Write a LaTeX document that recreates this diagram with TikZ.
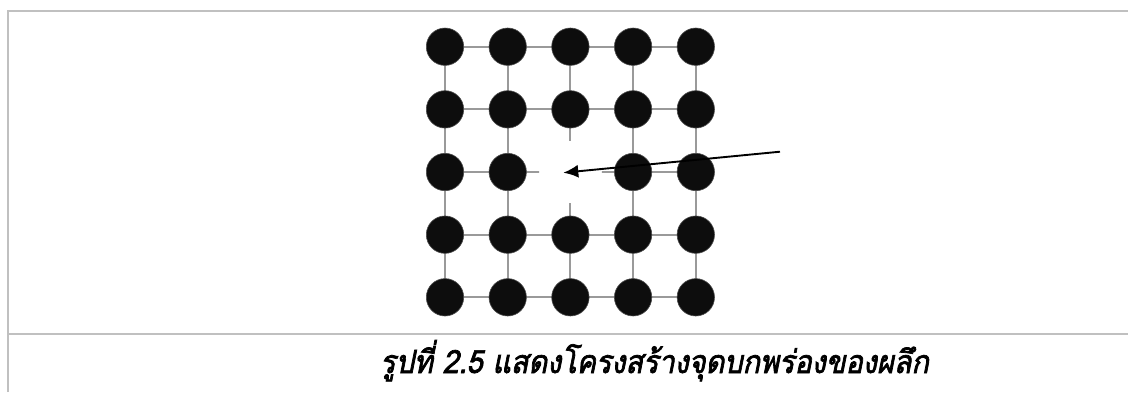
\documentclass[tikz,border=0pt]{standalone}
\usepackage{fontspec}
\newfontfamily\thaifont[Script=Thai,FakeSlant=0.2,FakeBold=2.2,FakeStretch=0.9]{Loma}
\usetikzlibrary{arrows.meta,calc}
\definecolor{framegray}{HTML}{C0C0C0}
\definecolor{bondgray}{HTML}{9A9A9A}
\tikzset{
  frameline/.style={draw=framegray,line width=2.6pt},
  bond/.style={draw=bondgray,line width=1.9pt},
  atom/.style={circle,fill=black!95,draw=black!70,line width=0.6pt,minimum size=37.4pt,inner sep=0pt},
  pointer/.style={draw=black,line width=1.9pt,-{Latex[length=15pt,width=13pt]}},
  caption/.style={anchor=base west,inner sep=0pt,font=\thaifont\fontsize{32pt}{34pt}\selectfont}
}
\begin{document}
\begin{tikzpicture}[x=1pt,y=-1pt]
  \useasboundingbox (0,0) rectangle (1128,392);
  % frame and caption separator
  \draw[frameline] (8,392) -- (8,11) -- (1128,11);
  \draw[frameline] (8,334) -- (1128,334);
  % lattice positions: 5 x 5 grid, the centre site is empty
  \foreach \c in {0,...,4}{
    \foreach \r in {0,...,4}{
      \coordinate (p\c\r) at (445+62.7*\c, 46.7+62.65*\r);
    }
  }
  \coordinate (vac) at (p22);
  % bonds along rows and columns, skipping the vacancy
  \begin{scope}[bond]
    \foreach \r in {0,1,3,4}{ \draw (p0\r) -- (p4\r); }
    \foreach \c in {0,1,3,4}{ \draw (p\c0) -- (p\c4); }
    \draw (p02) -- (p12) -- ($(p12)!0.5!(vac)$);
    \draw ($(p32)!0.5!(vac)$) -- (p32) -- (p42);
    \draw (p20) -- (p21) -- ($(p21)!0.5!(vac)$);
    \draw ($(p23)!0.5!(vac)$) -- (p23) -- (p24);
  \end{scope}
  % atoms
  \foreach \c in {0,...,4}{
    \foreach \r in {0,...,4}{
      \ifnum\c=2 \ifnum\r=2 \else \node[atom] (a\c\r) at (p\c\r) {}; \fi
      \else \node[atom] (a\c\r) at (p\c\r) {}; \fi
    }
  }
  % arrow pointing at the vacancy
  \coordinate (tail) at (780,151.7);
  \coordinate (tip) at (563.3,172.7);
  \draw[pointer] (tail) -- (tip);
  % caption
  \node[caption] (cap) at (380,373) {รูปที่ 2.5 แสดงโครงสร้างจุดบกพร่องของผลึก};
\end{tikzpicture}
\end{document}
